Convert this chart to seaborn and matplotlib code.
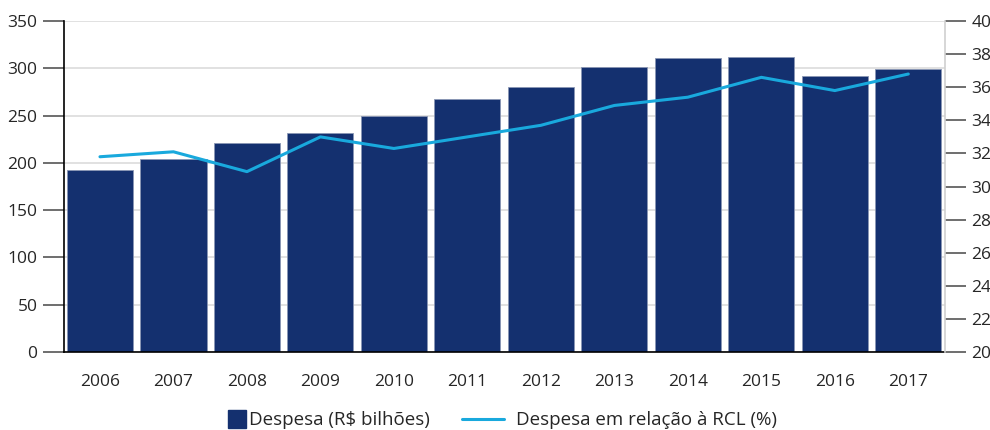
import numpy as np
import pandas as pd
import matplotlib
matplotlib.use('Agg')
import matplotlib.pyplot as plt
from matplotlib.patches import Patch, Rectangle
from matplotlib.lines import Line2D
from matplotlib.legend_handler import HandlerPatch
import seaborn as sns

# Dados
anos = ['2006', '2007', '2008', '2009', '2010', '2011',
        '2012', '2013', '2014', '2015', '2016', '2017']
despesa = [192, 204, 221, 232, 250, 268, 280, 301, 311, 312, 292, 299]
despesa_rcl = [31.8, 32.1, 30.9, 33.0, 32.3, 33.0, 33.7, 34.9, 35.4, 36.6, 35.8, 36.8]

df = pd.DataFrame({'ano': anos, 'despesa': despesa, 'rcl': despesa_rcl})

azul = '#14306f'
ciano = '#19a9dd'

sns.set_theme(style='white')
plt.rcParams['font.family'] = ['Open Sans', 'DejaVu Sans']
plt.rcParams['font.size'] = 12.5

fig = plt.figure(figsize=(9.9, 4.3), dpi=100)
ax = fig.add_axes([0.0646, 0.1814, 0.89, 0.7696])

sns.barplot(data=df, x='ano', y='despesa', color=azul, width=0.9,
            saturation=1, edgecolor='#8a96b4', linewidth=0.6, ax=ax, zorder=2)

ax.set_ylim(0, 350)
ax.set_yticks(range(0, 351, 50))
ax.yaxis.grid(True, color='#dcdcdc', linewidth=1.2, zorder=0)
ax.set_axisbelow(True)
ax.set_xlim(-0.49, 11.5)
ax.set_xlabel('')
ax.set_ylabel('')
ax.tick_params(axis='y', length=15, width=1.2, color='#555555', labelsize=12.5, pad=4)
ax.tick_params(axis='x', length=0, labelsize=12.5, pad=16)
for s in ['top', 'right']:
    ax.spines[s].set_visible(False)
ax.spines['left'].set_color('black')
ax.spines['left'].set_linewidth(1.2)
ax.spines['bottom'].set_color('black')
ax.spines['bottom'].set_linewidth(1.2)

# Eixo secundário
ax2 = ax.twinx()
sns.lineplot(x=np.arange(len(anos)), y=despesa_rcl, color=ciano, linewidth=2.2, ax=ax2)
ax2.set_ylim(20, 40)
ax2.set_yticks(range(20, 41, 2))
ax2.tick_params(axis='y', length=15, width=1.2, color='#555555', labelsize=12.5, pad=4)
for s in ['top', 'left', 'bottom']:
    ax2.spines[s].set_visible(False)
ax2.spines['right'].set_color('#d0d0d0')
ax2.spines['right'].set_linewidth(1.2)


# Legenda: quadrado encostado no texto
def quadrado(legend, orig_handle, xdescent, ydescent, width, height, fontsize):
    s = 13.0
    return Rectangle((width - s + 7 - xdescent, -ydescent + (height - s) / 2), s, s)


handles = [Patch(facecolor=azul, edgecolor=azul),
           Line2D([0], [0], color=ciano, linewidth=2.2)]
fig.legend(handles, ['Despesa (R$ bilhões)', 'Despesa em relação à RCL (%)'],
           loc='center', bbox_to_anchor=(0.4909, 0.023), ncol=2, frameon=False,
           fontsize=13.5, handlelength=2.24, handletextpad=0.64, columnspacing=1.75,
           handler_map={Patch: HandlerPatch(patch_func=quadrado)})

fig.savefig('out.png', dpi=100)
